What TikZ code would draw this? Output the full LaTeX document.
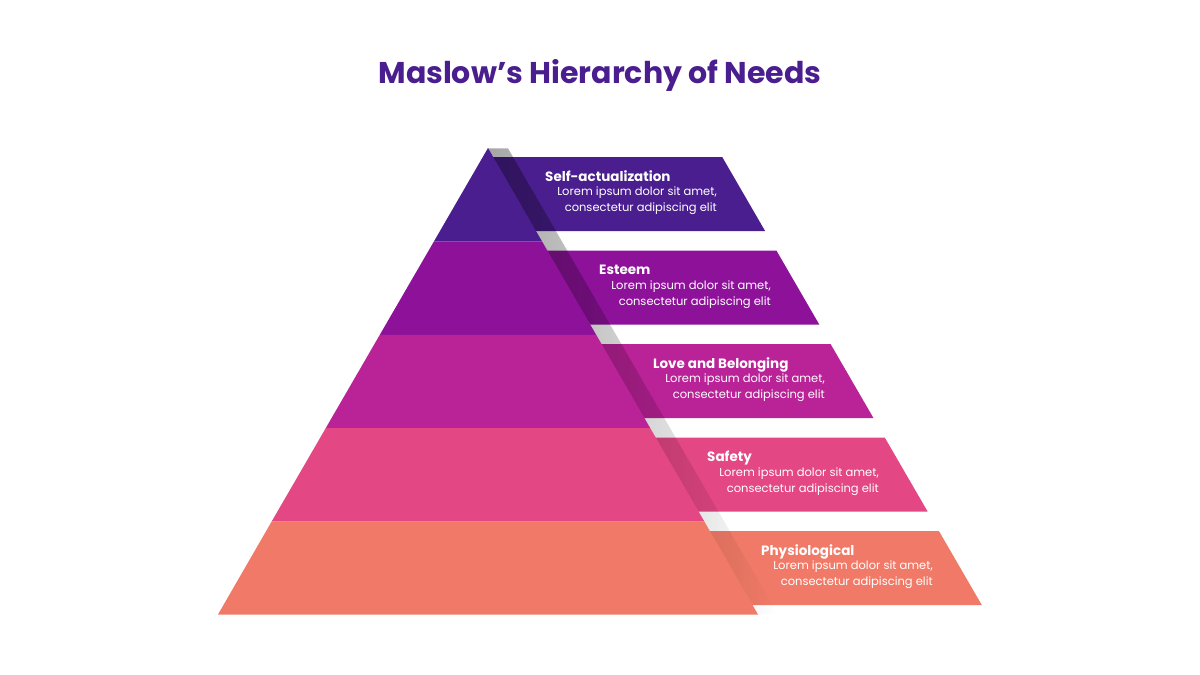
\documentclass[tikz,border=0pt]{standalone}
\usepackage{fontspec}
\setmainfont{Poppins}
\usetikzlibrary{fadings}
\definecolor{cA}{HTML}{4A1E8E}
\definecolor{cB}{HTML}{8D1299}
\definecolor{cC}{HTML}{BA2298}
\definecolor{cD}{HTML}{E34784}
\definecolor{cE}{HTML}{F07A67}
\tikzset{
  head/.style={anchor=base west,font=\bfseries\fontsize{13.5}{16}\selectfont,text=white,inner sep=0},
  body/.style={anchor=base east,align=right,font=\fontsize{11.5}{16}\selectfont,text=white,inner sep=0},
}
\begin{document}
\begin{tikzpicture}[x=1pt,y=-1pt]
\useasboundingbox[fill=white] (0,0) rectangle (1200,675);
\node[font=\bfseries\fontsize{30}{36}\selectfont,text=cA] (title) at (600,75) {Maslow’s Hierarchy of Needs};
% panels
\foreach \i/\c/\h in {0/cA/Self-actualization,1/cB/Esteem,2/cC/Love and Belonging,3/cD/Safety,4/cE/Physiological}{
  \pgfmathsetmacro{\yt}{157+93.5*\i}
  \pgfmathsetmacro{\yb}{\yt+74}
  \pgfmathsetmacro{\xl}{488+0.5794*(\yt-148)-5}
  \pgfmathsetmacro{\xlb}{488+0.5794*(\yb-148)-5}
  \fill[\c] (\xl,\yt) -- (\xl+234,\yt) -- (\xlb+234,\yb) -- (\xlb,\yb) -- cycle;
  \node[head] (h\i) at (545+54*\i,\yt+24) {\h};
  \node[body,anchor=north east] (b\i) at (717+54*\i,\yt+30) {Lorem ipsum dolor sit amet,\\consectetur adipiscing elit};
}
% shadow
\fill[black,opacity=0.35,path fading=east] (488,148) -- (508,148) -- (778,614) -- (758,614) -- cycle;
% pyramid bands
\fill[cA] (488,148) -- (542.1,241.5) -- (433.9,241.5) -- cycle;
\fill[cB] (433.9,241.5) -- (542.1,241.5) -- (596.2,334.8) -- (379.8,334.8) -- cycle;
\fill[cC] (379.8,334.8) -- (596.2,334.8) -- (650.3,428.2) -- (325.7,428.2) -- cycle;
\fill[cD] (325.7,428.2) -- (650.3,428.2) -- (704.4,521.6) -- (271.6,521.6) -- cycle;
\fill[cE] (271.6,521.6) -- (704.4,521.6) -- (758,614.5) -- (218,614.5) -- cycle;
\end{tikzpicture}
\end{document}
